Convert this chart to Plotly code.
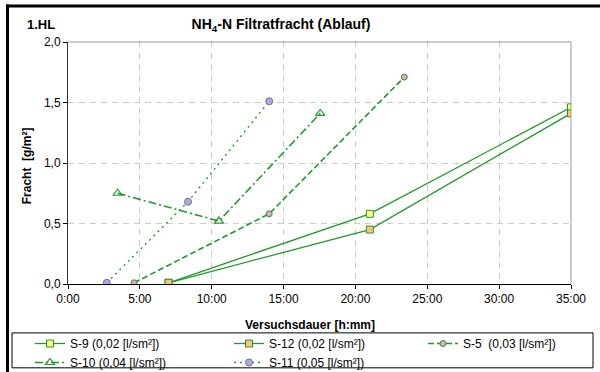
import plotly.graph_objects as go

# ---- data (hours since start, load g/m²) ----
s9_x = [7.0, 21.0, 35.0]
s9_y = [0.01, 0.58, 1.46]
s12_x = [7.0, 21.0, 35.0]
s12_y = [0.01, 0.45, 1.41]
s5_x = [4.6, 14.0, 23.4]
s5_y = [0.01, 0.58, 1.71]
s10_x = [3.45, 10.5, 17.55]
s10_y = [0.75, 0.52, 1.41]
s11_x = [2.7, 8.35, 14.0]
s11_y = [0.01, 0.68, 1.51]

x_tick_vals = [0, 5, 10, 15, 20, 25, 30, 35]
x_tick_text = ["0:00", "5:00", "10:00", "15:00", "20:00", "25:00", "30:00", "35:00"]
y_tick_vals = [0.0, 0.5, 1.0, 1.5, 2.0]
y_tick_text = ["0,0", "0,5", "1,0", "1,5", "2,0"]

names = ["S-9 (0,02 [l/sm²])", "S-12 (0,02 [l/sm²])", "S-5  (0,03 [l/sm²])",
         "S-10 (0,04 [l/sm²])", "S-11 (0,05 [l/sm²])"]

GREEN = "#22992a"
FONT = "Liberation Sans, Arial, sans-serif"

W, H = 600, 372
L, R, T, B = 68, 29, 41.5, 88
pw, ph = W - L - R, H - T - B


def px_x(p):
    return (p - L) / pw


def px_y(p):
    return (H - B - p) / ph


fig = go.Figure()
fig.add_trace(go.Scatter(x=s9_x, y=s9_y, name=names[0], mode="lines+markers",
                         legend="legend",
                         line=dict(color=GREEN, width=1.3),
                         marker=dict(symbol="square", size=7, color="#ffff80",
                                     line=dict(color=GREEN, width=1))))
fig.add_trace(go.Scatter(x=s12_x, y=s12_y, name=names[1], mode="lines+markers",
                         legend="legend2",
                         line=dict(color=GREEN, width=1.3),
                         marker=dict(symbol="square", size=7, color="#ffc080",
                                     line=dict(color=GREEN, width=1))))
fig.add_trace(go.Scatter(x=s5_x, y=s5_y, name=names[2], mode="lines+markers",
                         legend="legend3",
                         line=dict(color=GREEN, width=1.6, dash="6px,3px"),
                         marker=dict(symbol="circle", size=6, color="#f0a0c0",
                                     line=dict(color=GREEN, width=1))))
fig.add_trace(go.Scatter(x=s10_x, y=s10_y, name=names[3], mode="lines+markers",
                         legend="legend",
                         line=dict(color=GREEN, width=1.6, dash="8px,3px,2px,3px"),
                         marker=dict(symbol="triangle-up-open", size=8, color=GREEN,
                                     line=dict(color=GREEN, width=1.2))))
fig.add_trace(go.Scatter(x=s11_x, y=s11_y, name=names[4], mode="lines+markers",
                         legend="legend2",
                         line=dict(color=GREEN, width=1.4, dash="2px,4px"),
                         marker=dict(symbol="circle", size=7, color="#b8a0f5",
                                     line=dict(color="#5a8a5a", width=1))))

shapes = [
    # plot area top/right border (grey)
    dict(type="line", xref="paper", yref="paper", x0=0, x1=1, y0=1, y1=1,
         line=dict(color="#9a9a9a", width=1)),
    dict(type="line", xref="paper", yref="paper", x0=1, x1=1, y0=0, y1=1,
         line=dict(color="#9a9a9a", width=1)),
    # outer frame (left/top)
    dict(type="line", xref="paper", yref="paper", x0=px_x(7.5), x1=px_x(7.5),
         y0=px_y(4), y1=px_y(380), line=dict(color="black", width=3)),
    dict(type="line", xref="paper", yref="paper", x0=px_x(6), x1=px_x(610),
         y0=px_y(5.5), y1=px_y(5.5), line=dict(color="black", width=3)),
    # legend box
    dict(type="rect", xref="paper", yref="paper", x0=px_x(12), x1=px_x(593),
         y0=px_y(333), y1=px_y(368), line=dict(color="black", width=1)),
]

leg_common = dict(orientation="v", xref="container", yref="container",
                  xanchor="left", yanchor="top", y=1 - 329 / H,
                  bgcolor="rgba(0,0,0,0)", borderwidth=0,
                  font=dict(size=12), tracegroupgap=0)

fig.update_layout(
    width=W, height=H,
    margin=dict(l=L, r=R, t=T, b=B, autoexpand=False),
    paper_bgcolor="white", plot_bgcolor="white",
    font=dict(family=FONT, size=12, color="black"),
    title=dict(text="<b>NH<sub>4</sub>-N Filtratfracht (Ablauf)</b>",
               x=281 / W, xanchor="center", y=1 - 24 / H, yanchor="middle",
               font=dict(size=14)),
    showlegend=True,
    legend=dict(leg_common, x=30 / W),
    legend2=dict(leg_common, x=229 / W),
    legend3=dict(leg_common, x=423 / W),
    shapes=shapes,
    annotations=[
        dict(text="<b>1.HL</b>", xref="paper", yref="paper", x=px_x(25), y=px_y(24),
             xanchor="left", yanchor="middle", showarrow=False, font=dict(size=13)),
        dict(text="<b>Fracht  [g/m²]</b>", xref="paper", yref="paper",
             x=px_x(27), y=px_y(166), xanchor="center", yanchor="middle",
             textangle=-90, showarrow=False, font=dict(size=12)),
        dict(text="<b>Versuchsdauer [h:mm]</b>", xref="paper", yref="paper",
             x=px_x(310), y=px_y(325), xanchor="center", yanchor="middle",
             showarrow=False, font=dict(size=12)),
    ],
    xaxis=dict(range=[0, 35], tickvals=x_tick_vals, ticktext=x_tick_text,
               showgrid=True, gridcolor="#cccccc", griddash="6px,5px", gridwidth=1,
               showline=True, linecolor="black", linewidth=1,
               ticks="outside", ticklen=4, tickcolor="black", automargin=False,
               zeroline=False, tickfont=dict(size=12)),
    yaxis=dict(range=[0, 2.0], tickvals=y_tick_vals, ticktext=y_tick_text,
               showgrid=True, gridcolor="#cccccc", griddash="6px,5px", gridwidth=1,
               showline=True, linecolor="#333333", linewidth=1,
               ticks="outside", ticklen=4, tickcolor="black", automargin=False,
               zeroline=False, tickfont=dict(size=12)),
)

fig.write_html("out.html",
               config={"displayModeBar": False},
               post_script="document.body.style.margin='0';"
                           "document.body.style.overflow='hidden';")
